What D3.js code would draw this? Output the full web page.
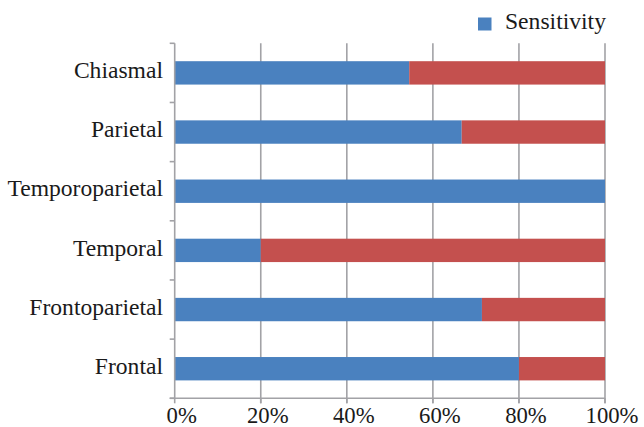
<!DOCTYPE html>
<html><head><meta charset="utf-8">
<script src="https://cdn.jsdelivr.net/npm/d3@7"></script>
<style>body{margin:0;background:#fff}svg{display:block}</style>
</head><body>
<svg id="c" width="644" height="427"></svg>
<script>
const categories = ["Chiasmal","Parietal","Temporoparietal","Temporal","Frontoparietal","Frontal"];
const sensitivity = [54.5, 66.7, 100, 20, 71.4, 80];
const xTicks = [0, 20, 40, 60, 80, 100];
const legendLabel = "Sensitivity";

const svg = d3.select("#c");
const m = {l:174.7, r:605, t:43.3, b:398.3};
const font = "'Liberation Serif','Times New Roman',serif";
const x = d3.scaleLinear().domain([0,100]).range([m.l, m.r]);
const y = d3.scaleBand().domain(categories).range([m.t, m.b]).paddingInner(0.605).paddingOuter(0.3025);
const yb = d3.scaleBand().domain(categories).range([m.t, m.b]);
const grid = "#a2a2a6";

// gridlines
svg.append("g").selectAll("line").data(xTicks.slice(1)).join("line")
  .attr("x1", d=>x(d)).attr("x2", d=>x(d)).attr("y1", m.t).attr("y2", m.b+5)
  .attr("stroke", grid).attr("stroke-width", 1.6);

// bars
const data = categories.map((c,i)=>({c, s:sensitivity[i]}));
svg.append("g").selectAll("rect").data(data).join("rect")
  .attr("x", x(0)).attr("y", d=>y(d.c)).attr("height", y.bandwidth())
  .attr("width", d=>x(d.s)-x(0)).attr("fill", "#4a81bf");
svg.append("g").selectAll("rect").data(data.filter(d=>d.s<100)).join("rect")
  .attr("x", d=>x(d.s)).attr("y", d=>y(d.c)).attr("height", y.bandwidth())
  .attr("width", d=>x(100)-x(d.s)).attr("fill", "#c4504e");

// y axis line + ticks at band boundaries
svg.append("line").attr("x1", m.l).attr("x2", m.l).attr("y1", m.t).attr("y2", m.b)
  .attr("stroke", grid).attr("stroke-width", 1.6);
const bounds = categories.map(c=>yb(c)).concat([m.b]);
svg.append("g").selectAll("line").data(bounds).join("line")
  .attr("x1", m.l-5).attr("x2", m.l).attr("y1", d=>d).attr("y2", d=>d)
  .attr("stroke", grid).attr("stroke-width", 1.6);
// x axis line + ticks
svg.append("line").attr("x1", m.l-5).attr("x2", m.r).attr("y1", m.b).attr("y2", m.b)
  .attr("stroke", grid).attr("stroke-width", 1.6);
svg.append("g").selectAll("line").data(xTicks).join("line")
  .attr("x1", d=>x(d)).attr("x2", d=>x(d)).attr("y1", m.b).attr("y2", m.b+5)
  .attr("stroke", grid).attr("stroke-width", 1.6);

// labels
svg.append("g").selectAll("text").data(categories).join("text")
  .attr("x", 163).attr("y", d=>y(d)+y.bandwidth()/2).attr("dy","0.22em")
  .attr("text-anchor","end").attr("font-family", font).attr("font-size", 23.6).attr("fill","#1a1a1a")
  .text(d=>d);
svg.append("g").selectAll("text").data(xTicks).join("text")
  .attr("x", d=>x(d)+7).attr("y", 422.5).attr("text-anchor","middle")
  .attr("font-family", font).attr("font-size", 22.7).attr("fill","#1a1a1a")
  .text(d=>d+"%");

// legend
svg.append("rect").attr("x", 478).attr("y", 17.5).attr("width", 13.5).attr("height", 13).attr("fill", "#4a81bf");
svg.append("text").attr("x", 505).attr("y", 28.5).attr("font-family", font).attr("font-size", 23.6)
  .attr("fill","#1a1a1a").text(legendLabel);
</script>
</body></html>
